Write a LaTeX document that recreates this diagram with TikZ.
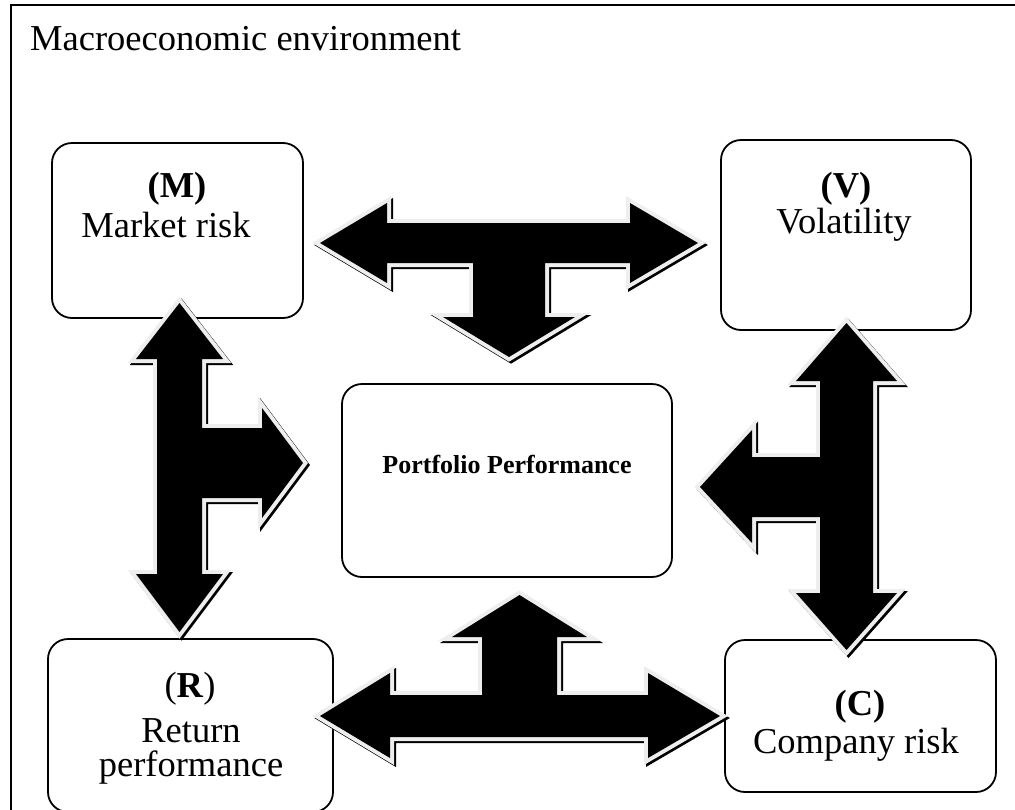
\documentclass[tikz,border=0pt]{standalone}
\usepackage{fontspec}
\setmainfont{Liberation Serif}

\definecolor{rim}{RGB}{238,238,238}
\definecolor{shade}{RGB}{196,196,196}

\tikzset{
  panel/.style={draw=black, line width=1.8pt, fill=white, rounded corners=20pt, inner sep=0pt},
  txt/.style={anchor=base, inner sep=0pt, font=\fontsize{36.5}{40}\selectfont},
}

% block arrow: grey drop shadow, pale rim, solid black body
\newcommand\blockarrow[1]{%
  \draw[shade, fill=shade, line width=8pt, line join=miter, shift={(2,2)}] #1;
  \draw[rim, line width=8pt, line join=miter] #1;
  \fill[black] #1;
}

\begin{document}
\begin{tikzpicture}[x=1pt, y=-1pt]
  \useasboundingbox (0,0) rectangle (1015,809);
  \fill[white] (0,0) rectangle (1015,809);

  % surrounding frame
  \draw[line width=1.5pt] (11,5) rectangle (1030,825);
  \node[anchor=base west, inner sep=0pt, font=\fontsize{36.5}{40}\selectfont] (title) at (30,50) {Macroeconomic environment};

  % boxes
  \node[panel, minimum width=251pt, minimum height=175pt] (mbox) at (177.5,230.5) {};
  \node[panel, minimum width=250pt, minimum height=190pt] (vbox) at (846,235) {};
  \node[panel, minimum width=330pt, minimum height=193pt] (pbox) at (507,480.5) {};
  \node[panel, minimum width=271pt, minimum height=152pt] (cbox) at (860.5,716) {};
  \node[panel, minimum width=285pt, minimum height=173pt] (rbox) at (190.5,725.5) {};

  % box texts
  \node[txt] (mtop) at (177,197) {\textbf{(M)}};
  \node[txt] (mtext) at (166,237) {Market risk};
  \node[txt] (vtop) at (846,197) {\textbf{(V)}};
  \node[txt] (vtext) at (844,233) {Volatility};
  \node[anchor=base, inner sep=0pt, font=\fontsize{26}{30}\selectfont\bfseries] (ptext) at (507,473) {Portfolio Performance};
  \node[txt] (ctop) at (860,715) {\textbf{(C)}};
  \node[txt] (ctext) at (856,753) {Company risk};
  \node[txt] (rtop) at (190,697) {(\textbf{R})};
  \node[txt] (rret) at (191,742) {Return};
  \node[txt] (rperf) at (191,776) {performance};

  % top: left-right arrow with a branch down to the centre box
  \blockarrow{(320,243) -- (387,203) -- (387,223) -- (630,223) -- (630,203) -- (698,243)
    -- (630,283) -- (630,263) -- (545,263) -- (545,317) -- (575,317) -- (509,357)
    -- (443,317) -- (473,317) -- (473,263) -- (387,263) -- (387,283) -- cycle}

  % left: up-down arrow with a branch right to the centre box
  \blockarrow{(179.5,303) -- (223,359) -- (202,359) -- (202,428) -- (262,428) -- (262,408)
    -- (303,463) -- (262,518) -- (262,498) -- (202,498) -- (202,574) -- (223,574)
    -- (179.5,632) -- (136,574) -- (157,574) -- (157,359) -- (136,359) -- cycle}

  % right: up-down arrow with a branch left to the centre box
  \blockarrow{(846.5,323) -- (897,381) -- (873,381) -- (873,593) -- (897,593) -- (846.5,650)
    -- (796,593) -- (820,593) -- (820,517) -- (752,517) -- (752,543) -- (700,487)
    -- (752,430) -- (752,457) -- (820,457) -- (820,381) -- (796,381) -- cycle}

  % bottom: left-right arrow with a branch up to the centre box
  \blockarrow{(519.5,595) -- (587,637) -- (557,637) -- (557,695) -- (648,695) -- (648,673)
    -- (720,716) -- (648,758) -- (648,737) -- (390,737) -- (390,758) -- (320,716)
    -- (390,673) -- (390,695) -- (482,695) -- (482,637) -- (452,637) -- cycle}
\end{tikzpicture}
\end{document}
